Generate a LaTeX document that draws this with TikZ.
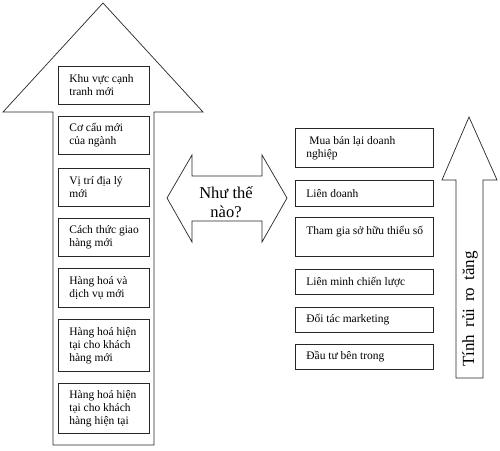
\documentclass[tikz,border=0pt]{standalone}
\usepackage{fontspec}
\setmainfont{Liberation Serif}
\begin{document}
\begin{tikzpicture}[x=1pt,y=-1pt,line width=0.7pt,
  outline/.style={draw=black!85,fill=white,line join=miter},
  box/.style={draw=black!85,fill=white,inner sep=0pt,anchor=north west},
  lbox/.style={box,minimum width=91pt},
  rbox/.style={box,minimum width=138pt},
  txt/.style={anchor=west,inner sep=0pt,align=left,font=\fontsize{11.5}{13}\selectfont}]
\useasboundingbox (0,0) rectangle (500,450);
% left big arrow
\draw[outline] (103,3) -- (203,112) -- (154,112) -- (154,445) -- (53,445) -- (53,112) -- (3,112) -- cycle;
% left boxes
\node[lbox,minimum height=38pt] (b1) at (58,66) {};
\node[lbox,minimum height=38pt] (b2) at (58,116) {};
\node[lbox,minimum height=38pt] (b3) at (58,168) {};
\node[lbox,minimum height=38pt] (b4) at (58,218) {};
\node[lbox,minimum height=39pt] (b5) at (58,268) {};
\node[lbox,minimum height=52pt] (b6) at (58,319) {};
\node[lbox,minimum height=50pt] (b7) at (58,383) {};
\node[txt] (t1) at ([xshift=11pt]b1.west) {Khu vực cạnh\\tranh mới};
\node[txt] (t2) at ([xshift=11pt]b2.west) {Cơ cấu mới\\của ngành};
\node[txt] (t3) at ([xshift=11pt]b3.west) {Vị trí địa lý\\mới};
\node[txt] (t4) at ([xshift=11pt]b4.west) {Cách thức giao\\hàng mới};
\node[txt] (t5) at ([xshift=11pt]b5.west) {Hàng hoá và\\dịch vụ mới};
\node[txt] (t6) at ([xshift=11pt]b6.west) {Hàng hoá hiện\\tại cho khách\\hàng mới};
\node[txt] (t7) at ([xshift=11pt]b7.west) {Hàng hoá hiện\\tại cho khách\\hàng hiện tại};
% double arrow
\draw[outline] (167,198) -- (192,155) -- (192,176) -- (262,176) -- (262,155) -- (287,198) -- (262,242) -- (262,221) -- (192,221) -- (192,242) -- cycle;
\node[align=center,inner sep=0pt,font=\fontsize{16.5}{19}\selectfont] (q) at (226,202) {Như thế\\nào?};
% right boxes
\node[rbox,minimum height=39pt] (r1) at (295,128) {};
\node[rbox,minimum height=26pt] (r2) at (295,180) {};
\node[rbox,minimum height=39pt] (r3) at (295,217) {};
\node[rbox,minimum height=25pt] (r4) at (295,269) {};
\node[rbox,minimum height=25pt] (r5) at (295,307) {};
\node[rbox,minimum height=25pt] (r6) at (295,344) {};
\node[txt] (s1) at ([xshift=11pt]r1.west) {\hspace{3pt}Mua bán lại doanh\\nghiệp};
\node[txt] (s2) at ([xshift=11pt]r2.west) {Liên doanh};
\node[txt] (s3) at ([xshift=11pt]r3.west) {Tham gia sở hữu thiểu số\\\mbox{}};
\node[txt] (s4) at ([xshift=11pt]r4.west) {Liên minh chiến lược};
\node[txt] (s5) at ([xshift=11pt]r5.west) {Đối tác marketing};
\node[txt] (s6) at ([xshift=11pt]r6.west) {Đầu tư bên trong};
% right arrow
\draw[outline] (469,117) -- (497,180) -- (483,180) -- (483,378) -- (456,378) -- (456,180) -- (442,180) -- cycle;
\node[rotate=90,inner sep=0pt,font={\fontsize{17}{20}\selectfont\spaceskip=7pt\relax}] (risk) at (470,309) {Tính rủi ro tăng};
\end{tikzpicture}
\end{document}
